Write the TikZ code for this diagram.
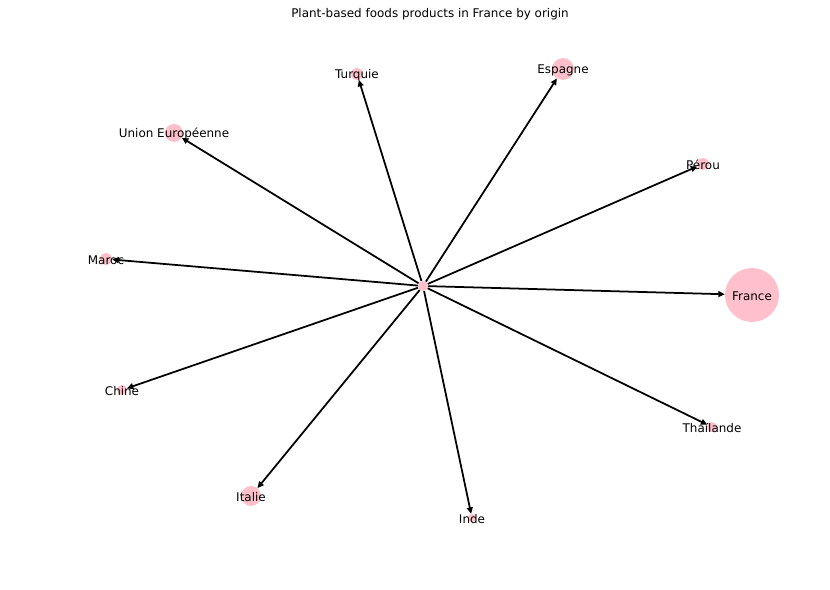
\documentclass[tikz,border=0pt]{standalone}
\usepackage{fontspec}
\setmainfont{DejaVu Sans}
\usetikzlibrary{arrows.meta}
\definecolor{nodepink}{HTML}{FFC0CB}

\begin{document}
\begin{tikzpicture}[
		x=0.03cm, y=-0.03cm,
		dot/.style={circle, fill=nodepink, inner sep=0pt, minimum size=#1*0.03cm},
		tag/.style={font=\fontsize{10.2pt}{12pt}\selectfont, inner sep=0pt, yshift=-1pt},
		arrow/.style={-{Triangle[length=5.5pt,width=5pt]}, line width=1.5pt}
	]
	
		\useasboundingbox (0,0) rectangle (830,590);
		
		% Title
		\node[tag] (title) at (430,13) {Plant-based foods products in France by origin};
		
		% Nodes
		\node[dot=10] (origin) at (423,286) {};
		\node[dot=54] (fr) at (752,295) {};
		\node[dot=22] (es) at (563,69) {};
		\node[dot=12] (tr) at (357,74) {};
		\node[dot=18] (ue) at (174,133) {};
		\node[dot=12] (pe) at (703,164) {};
		\node[dot=12] (ma) at (106,259) {};
		\node[dot=10] (cn) at (122,390) {};
		\node[dot=20] (it) at (251,496) {};
		\node[dot=8] (in) at (472,518) {};
		\node[dot=10] (th) at (712,427) {};
		
		% Arrows
		\draw[arrow] (origin) -- (fr);
		\draw[arrow] (origin) -- (es);
		\draw[arrow] (origin) -- (tr);
		\draw[arrow] (origin) -- (ue);
		\draw[arrow] (origin) -- (pe);
		\draw[arrow] (origin) -- (ma);
		\draw[arrow] (origin) -- (cn);
		\draw[arrow] (origin) -- (it);
		\draw[arrow] (origin) -- (in);
		\draw[arrow] (origin) -- (th);
		
		% Labels
		\node[tag] (frlabel) at (fr) {France};
		\node[tag] (eslabel) at (es) {Espagne};
		\node[tag] (trlabel) at (tr) {Turquie};
		\node[tag] (uelabel) at (ue) {Union Européenne};
		\node[tag] (pelabel) at (pe) {Pérou};
		\node[tag] (malabel) at (ma) {Maroc};
		\node[tag] (cnlabel) at (cn) {Chine};
		\node[tag] (itlabel) at (it) {Italie};
		\node[tag] (inlabel) at (in) {Inde};
		\node[tag] (thlabel) at (th) {Thaïlande};
		
	\end{tikzpicture}
\end{document}
